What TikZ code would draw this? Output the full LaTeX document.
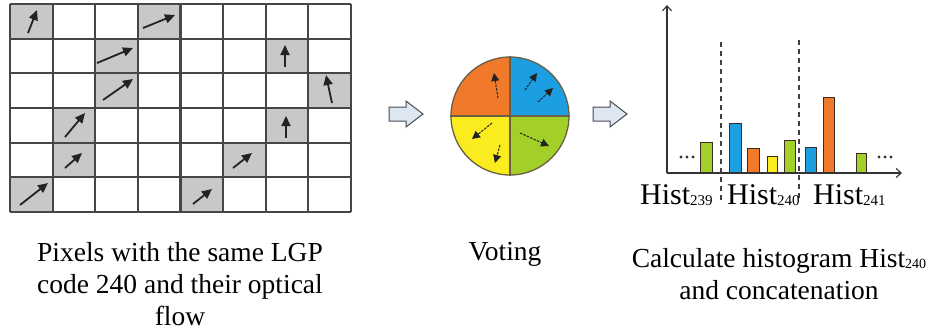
\documentclass[tikz,border=0pt]{standalone}
\usepackage{fontspec}
\setmainfont{Liberation Serif}
\usetikzlibrary{arrows.meta}

\definecolor{cellgray}{RGB}{200,200,200}
\definecolor{gridgray}{RGB}{70,70,70}
\definecolor{flowgray}{RGB}{35,35,35}
\definecolor{qorange}{RGB}{241,122,42}
\definecolor{qblue}{RGB}{28,158,226}
\definecolor{qyellow}{RGB}{250,236,30}
\definecolor{qgreen}{RGB}{163,208,40}
\definecolor{divbrown}{RGB}{105,95,70}
\definecolor{hollowfill}{RGB}{222,230,242}
\definecolor{hollowedge}{RGB}{70,75,85}
\definecolor{barline}{RGB}{60,45,35}

\newcommand\hsub[1]{\raisebox{-1.5pt}{\fontsize{15}{15}\selectfont #1}}
\newcommand\csub[1]{\raisebox{-1pt}{\fontsize{14}{14}\selectfont #1}}

\begin{document}
\begin{tikzpicture}[x=1pt,y=-1pt,
  gridline/.style={draw=gridgray,line width=2.2pt},
  flow/.style={draw=flowgray,line width=1.8pt,-{Triangle[length=10pt,width=9pt]}},
  voteflow/.style={draw=flowgray,line width=1pt,dash pattern=on 2.5pt off 1.2pt,
    -{Triangle[length=8pt,width=8pt]}},
  hollow/.style={draw=hollowedge,fill=hollowfill,line width=1pt,line join=miter},
  axis/.style={draw=black!80,line width=1.1pt,-{Straight Barb[length=5pt,width=9pt]}},
  sep/.style={draw=black!75,line width=1.5pt,dash pattern=on 5pt off 4pt},
  bar/.style={draw=barline,line width=0.9pt},
  caption/.style={font=\fontsize{27.5}{32}\selectfont,align=center,anchor=base,inner sep=0pt},
  histlab/.style={font=\fontsize{30}{30}\selectfont,anchor=base west,inner sep=0pt},
  dot/.style={fill=black!80}]
\useasboundingbox (0,0) rectangle (929,333);

% ---- pixel grid with optical flow ----
\foreach \c/\r in {0/0,3/0,2/1,6/1,2/2,7/2,1/3,6/3,1/4,5/4,0/5,4/5}
  \fill[cellgray] ({10+\c*42.625},{4+\r*34.667}) rectangle ++(42.625,34.667);
\foreach \i in {0,...,8}
  \draw[gridline] ({10+\i*42.625},4) -- ++(0,208);
\foreach \j in {0,...,6}
  \draw[gridline] (10,{4+\j*34.667}) -- ++(341,0);

\foreach \ax/\ay/\bx/\by in {
  28/33/37/10, 143/28/175/15,
  97/63/133/48, 285/67/285/45,
  103/100/133/79, 332/103/326/75,
  65/137/85/113, 286/138/286/116,
  65/168/82/153, 233/168/252/153,
  20/205/48/183, 193/204/212/189}
  \draw[flow] (\ax,\ay) -- (\bx,\by);

% ---- hollow step arrows ----
\draw[hollow] (389,107) -- (406,107) -- (406,101) -- (423,114) -- (406,127) -- (406,121) -- (389,121) -- cycle;
\draw[hollow] (593,107) -- (610,107) -- (610,101) -- (627,114) -- (610,127) -- (610,121) -- (593,121) -- cycle;

% ---- voting disc ----
\fill[qorange] (510,116) -- (451,116) arc[start angle=180,end angle=270,radius=59] -- cycle;
\fill[qblue]   (510,116) -- (510,57)  arc[start angle=270,end angle=360,radius=59] -- cycle;
\fill[qgreen]  (510,116) -- (569,116) arc[start angle=0,end angle=90,radius=59] -- cycle;
\fill[qyellow] (510,116) -- (510,175) arc[start angle=90,end angle=180,radius=59] -- cycle;
\node[circle,draw=divbrown,line width=1.3pt,minimum size=118pt,inner sep=0pt] (vote) at (510,116) {};
\draw[divbrown,line width=1.6pt] (vote.north) -- (vote.south);
\draw[divbrown,line width=1.6pt] (vote.west) -- (vote.east);

\draw[voteflow] (498,98) -- (494,73);
\draw[voteflow] (525,90) -- (537,73);
\draw[voteflow] (538,102) -- (553,88);
\draw[voteflow] (492,123) -- (472,139);
\draw[voteflow] (500,145) -- (495,163);
\draw[voteflow] (520,133) -- (549,146);

% ---- histogram ----
\coordinate (O) at (667,173);
\coordinate (ytop) at (667,5);
\coordinate (xend) at (902,173);
\foreach \xl/\xr/\tp/\col in {
  700/712/142/qgreen, 729/741/123/qblue, 747/759/148/qorange,
  767/777/156/qyellow, 784/795/140/qgreen, 805/816/147/qblue,
  823/834/97/qorange, 856/866/153/qgreen}
  \draw[bar,fill=\col] (\xl,173) rectangle (\xr,\tp);
\draw[axis] (O) -- (ytop);
\draw[axis] (O) -- (xend);
\draw[sep] (721,42) -- (721,203);
\draw[sep] (799,40) -- (799,200);
\foreach \dx in {681,687,693,879,885,891}
  \fill[dot] (\dx,157) circle[radius=1.7];

\node[histlab] (h239) at (640,204) {Hist\hsub{239}};
\node[histlab] (h240) at (727,204) {Hist\hsub{240}};
\node[histlab] (h241) at (813,204) {Hist\hsub{241}};

% ---- captions (anchored on the baseline of the last line) ----
\node[caption] (cap1) at (180,325) {Pixels with the same LGP\\code 240 and their optical\\flow};
\node[caption] (cap2) at (505,260) {Voting};
\node[caption] (cap3) at (779,299) {Calculate histogram Hist\csub{240}\\and concatenation};
\end{tikzpicture}
\end{document}
